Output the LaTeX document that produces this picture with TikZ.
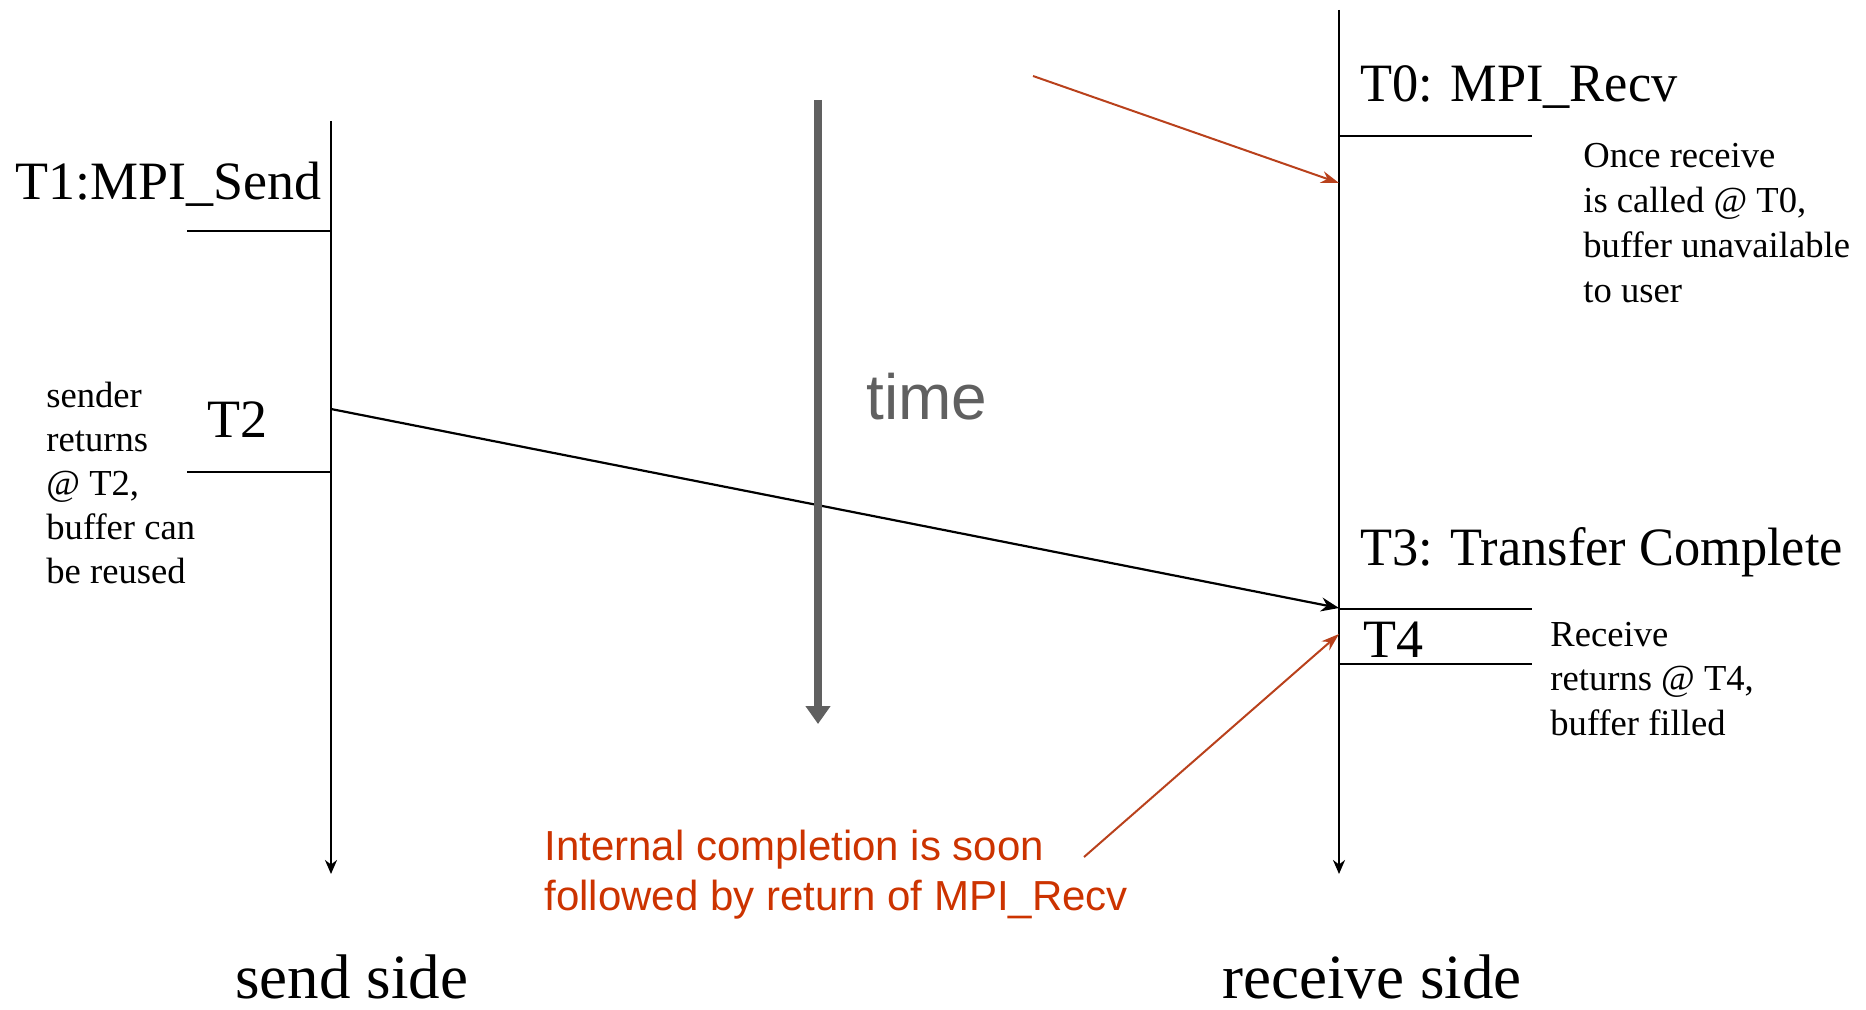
\documentclass[tikz,border=0pt]{standalone}
\usepackage{fontspec}
\setmainfont{Liberation Serif}
\newfontfamily\condserif[FakeStretch=0.97]{Liberation Serif}
\newfontfamily\arialf{Liberation Sans}
\usetikzlibrary{arrows.meta}
\definecolor{redtxt}{HTML}{CC3300}
\definecolor{redarr}{HTML}{B9411C}
\definecolor{timegray}{HTML}{606060}
\tikzset{
  lifeline/.style={line width=1.3pt, -{Stealth[length=7pt,width=6pt]}},
  tickline/.style={line width=1.3pt},
  msgarrow/.style={line width=1.1pt, -{Stealth[length=9pt,width=7pt]}},
  redarrow/.style={line width=1pt, draw=redarr, -{Stealth[length=9pt,width=6pt]}},
  timearrow/.style={line width=4pt, draw=timegray, -{Triangle[length=9pt,width=12pt]}},
  bigtxt/.style={anchor=base west, inner sep=0pt, font=\fontsize{27}{32}\selectfont},
  condtxt/.style={anchor=base west, inner sep=0pt, font=\condserif\fontsize{27}{32}\selectfont},
  smalltxt/.style={anchor=base west, inner sep=0pt, font=\fontsize{18.3}{22}\selectfont},
  sidetxt/.style={anchor=base west, inner sep=0pt, font=\fontsize{31.5}{38}\selectfont},
  redtext/.style={anchor=base west, inner sep=0pt, text=redtxt, font=\arialf\fontsize{21}{25}\selectfont},
  timetxt/.style={anchor=base west, inner sep=0pt, text=timegray, font=\arialf\fontsize{32}{38}\selectfont},
}
\begin{document}
\begin{tikzpicture}[x=0.5pt,y=-0.5pt]
\useasboundingbox (0,0) rectangle (1866,1010);

% lifelines
\coordinate (sendtop) at (331,121);
\coordinate (sendbot) at (331,874);
\coordinate (recvtop) at (1339,10);
\coordinate (recvbot) at (1339,874);
\draw[lifeline] (sendtop) -- (sendbot);
\draw[lifeline] (recvtop) -- (recvbot);

% send side ticks
\coordinate (t1a) at (187,231); \coordinate (t1b) at (331,231);
\coordinate (t2a) at (187,472); \coordinate (t2b) at (331,472);
\draw[tickline] (t1a) -- (t1b);
\draw[tickline] (t2a) -- (t2b);

% receive side ticks
\coordinate (t0a) at (1339,136); \coordinate (t0b) at (1532,136);
\coordinate (t3a) at (1339,609); \coordinate (t3b) at (1532,609);
\coordinate (t4a) at (1339,664); \coordinate (t4b) at (1532,664);
\draw[tickline] (t0a) -- (t0b);
\draw[tickline] (t3a) -- (t3b);
\draw[tickline] (t4a) -- (t4b);

% labels
\node[bigtxt] (T1) at (15,200) {T1:MPI\_Send};
\node[bigtxt] (T2) at (207,437) {T2};
\node[condtxt] (T0) at (1360,102) {T0: MPI\_Recv};
\node[condtxt] (T3) at (1360,565) {T3: Transfer Complete};
\node[bigtxt] (T4) at (1363,657) {T4};

% sender note
\foreach \t [count=\i] in {sender, returns, {@ T2,}, buffer can, be reused}
  \node[smalltxt] (snd\i) at (46,{407+44.2*(\i-1)}) {\t};

% receive notes
\foreach \t [count=\i] in {Once receive, {is called @ T0,}, buffer unavailable, to user}
  \node[smalltxt] (once\i) at (1583,{168+45*(\i-1)}) {\t};
\foreach \t [count=\i] in {Receive, {returns @ T4,}, buffer filled}
  \node[smalltxt] (rcv\i) at (1550,{646+44.5*(\i-1)}) {\t};

% message
\coordinate (msgstart) at (331,409);
\coordinate (msgend) at (1339,608);
\draw[msgarrow] (msgstart) -- (msgend);

% time arrow
\coordinate (timetop) at (818,100);
\coordinate (timebot) at (818,724);
\draw[timearrow] (timetop) -- (timebot);
\node[timetxt] (time) at (866,419) {time};

% red annotations
\coordinate (r0start) at (1033,76);
\coordinate (r0end) at (1339,183);
\draw[redarrow] (r0start) -- (r0end);
\coordinate (r4start) at (1084,857);
\coordinate (r4end) at (1339,634);
\draw[redarrow] (r4start) -- (r4end);
\node[redtext] (red1) at (544,860) {Internal completion is soon};
\node[redtext] (red2) at (544,910) {followed by return of MPI\_Recv};

% bottom labels
\node[sidetxt] (sendside) at (235,998) {send side};
\node[sidetxt] (recvside) at (1222,998) {receive side};
\end{tikzpicture}
\end{document}
